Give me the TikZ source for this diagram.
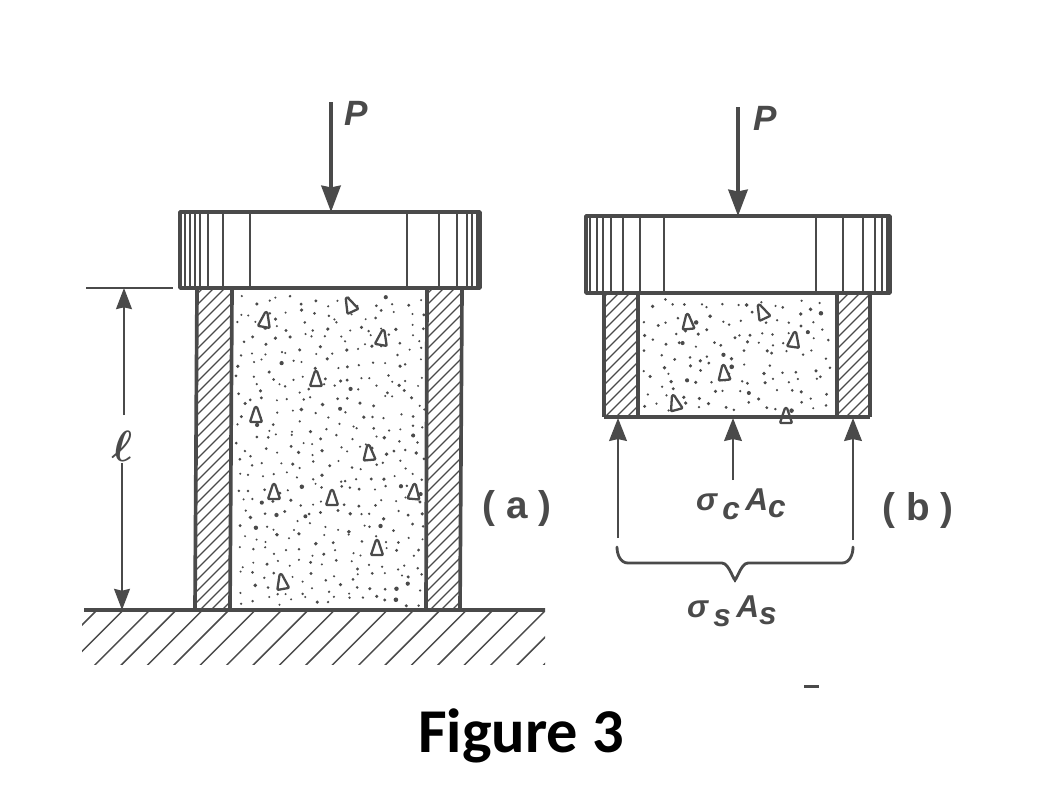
\documentclass[tikz,border=0pt]{standalone}
\usepackage{fontspec}
\setmainfont{Carlito}
\newfontfamily\labelfont{Liberation Sans}
\usepackage{amsmath}
\usepackage{tkz-euclide}
\usetikzlibrary{arrows.meta}
\definecolor{ink}{HTML}{4A4A4A}
\tikzset{
  outline/.style={ink,line width=2.1pt,line join=round},
  capline/.style={ink,line width=1pt},
  hatchline/.style={ink,line width=0.75pt},
  aggregate/.style={ink,fill=white,line width=1.3pt,line join=round,rounded corners=0.5pt},
  loadarrow/.style={ink,line width=2pt,-{Stealth[length=15pt,width=11pt,inset=1pt]}},
  dimarrow/.style={ink,line width=1.2pt,-{Stealth[length=12pt,width=9pt,inset=1pt]}},
  forcearrow/.style={ink,line width=1.5pt,-{Stealth[length=13pt,width=10pt,inset=1pt]}},
  labeltext/.style={ink,font=\labelfont\bfseries\itshape\fontsize{20}{24}\selectfont,inner sep=0pt},
  forcetext/.style={ink,font=\labelfont\bfseries\itshape\fontsize{18}{22}\selectfont,inner sep=0pt},
  casetext/.style={ink,font=\labelfont\bfseries\fontsize{22}{26}\selectfont,inner sep=0pt}
}
\begin{document}
\begin{tikzpicture}[x=0.02cm,y=-0.02cm]
\useasboundingbox (0,0) rectangle (1060,808);
% column (a)
\tkzDefPoints{331/102/Pa,331/212/Qa,180/212/A,480/212/B,480/288/C,180/288/D}
\tkzDefPoints{197/289/E,232/289/F,230/610/G,195/610/H,427/289/I,462/289/J,460/610/K,426/610/L}
\tkzDefPoints{84/610/M,545/610/N,86/288/R,173/288/S,124/288/T,124/415/U,122/463/V,122/610/W}
% column (b)
\tkzDefPoints{738/107/Pb,738/216/Qb,586/216/A1,890/216/B1,890/293/C1,586/293/D1}
\tkzDefPoints{604/293/E1,638/293/F1,638/417/G1,604/417/H1,837/293/I1,870/293/J1,870/417/K1,837/417/L1}
\tkzDefPoints{618/538/X,618/418/X1,733/480/Y,733/418/Y1,853/540/Z,853/418/Z1}
\tkzDefPoints{617/547/Ba,853/547/Bb,735/578/Bc}
% stipple
\pgfmathsetseed{31}
\foreach \i in {0,...,15}{
  \foreach \j in {0,...,24}{
    \pgfmathsetmacro\dotx{236+\i*12+rnd*10}
    \pgfmathsetmacro\doty{296+\j*12.5+rnd*11}
    \pgfmathsetmacro\dotr{1.1+rnd*rnd*1.3}
    \fill[ink] (\dotx,\doty) circle[radius=\dotr];
  }
}
\foreach \i in {0,...,14}{
  \foreach \j in {0,...,8}{
    \pgfmathsetmacro\dotx{643+\i*12.6+rnd*11}
    \pgfmathsetmacro\doty{299+\j*12.8+rnd*11}
    \pgfmathsetmacro\dotr{1.2+rnd*rnd*1.3}
    \fill[ink] (\dotx,\doty) circle[radius=\dotr];
  }
}
% aggregate
\foreach \x/\y/\r in {265/320/-10,350/305/25,382/338/-10,316/379/0,256/415/0,369/453/5,274/492/0,332/498/0,414/492/-5,377/548/0,282/582/10,688/322/5,762/312/25,794/340/-8,724/373/5,675/403/15,786/416/0}
  \draw[aggregate,shift={(\x,\y)},rotate=\r] (-6,7)--(6,7)--(1,-8)--(-1,-8)--cycle;
% wall hatching
\begin{scope}
\clip (E)--(F)--(G)--(H)--cycle (I)--(J)--(K)--(L)--cycle (E1)--(F1)--(G1)--(H1)--cycle (I1)--(J1)--(K1)--(L1)--cycle;
\foreach \k in {0,11,...,352}{
  \draw[hatchline] (190,\k+290)--(240,\k+240);
  \draw[hatchline] (420,\k+290)--(470,\k+240);
}
\foreach \k in {0,11,...,165}{
  \draw[hatchline] (600,\k+290)--(645,\k+245);
  \draw[hatchline] (830,\k+290)--(875,\k+245);
}
\end{scope}
% ground hatching
\begin{scope}
\clip (82,612) rectangle (545,664);
\foreach \k in {0,...,19}
  \draw[hatchline,line width=0.85pt] (97+26.4*\k,610)--(97+26.4*\k-56,666);
\end{scope}
% caps
\foreach \x in {185,190,195,200,208,223,250,407,439,457,467,472,477}
  \draw[capline] (\x,212)--(\x,288);
\foreach \x in {590,597,603,611,623,640,664,816,843,863,875,882,887}
  \draw[capline] (\x,216)--(\x,293);
\draw[outline](A)--(B)--(C)--(D)--cycle;
\draw[outline](A1)--(B1)--(C1)--(D1)--cycle;
% walls and base
\draw[outline](E)--(H)(F)--(G)(I)--(L)(J)--(K)(M)--(N);
\draw[outline](E1)--(H1)(F1)--(G1)(I1)--(L1)(J1)--(K1)(H1)--(K1);
% loads and dimension
\draw[loadarrow](Pa)--(Qa);
\draw[loadarrow](Pb)--(Qb);
\draw[ink,line width=1.2pt](R)--(S);
\draw[dimarrow](U)--(T);
\draw[dimarrow](V)--(W);
\draw[forcearrow](X)--(X1);
\draw[forcearrow](Y)--(Y1);
\draw[forcearrow](Z)--(Z1);
% brace
\draw[ink,line width=1.6pt,line cap=round](Ba) to[out=-90,in=180] (628,563)--(722,563) to[out=0,in=-90] (Bc)
(Bb) to[out=-90,in=0] (842,563)--(748,563) to[out=180,in=-90] (Bc);
\fill[ink] (804,685) rectangle (819,688);
% labels
\node[labeltext] (pa) at (356,113) {P};
\node[labeltext] (pb) at (765,118) {P};
\node[ink,inner sep=0pt] (ell) at (122,446) {\fontsize{32}{32}\selectfont$\boldsymbol{\ell}$};
\node[casetext] (casea) at (517,508) {( a )};
\node[casetext] (caseb) at (918,510) {( b )};
\node[forcetext] (sc) at (741,504) {σ\,\lower5pt\hbox{c}\,A\lower4pt\hbox{c}};
\node[forcetext] (ss) at (732,611) {σ\,\lower5pt\hbox{s}\,A\lower4pt\hbox{s}};
\node[inner sep=0pt,font=\bfseries\fontsize{35.5}{40}\selectfont] (title) at (521,736) {Figure 3};
\end{tikzpicture}
\end{document}
